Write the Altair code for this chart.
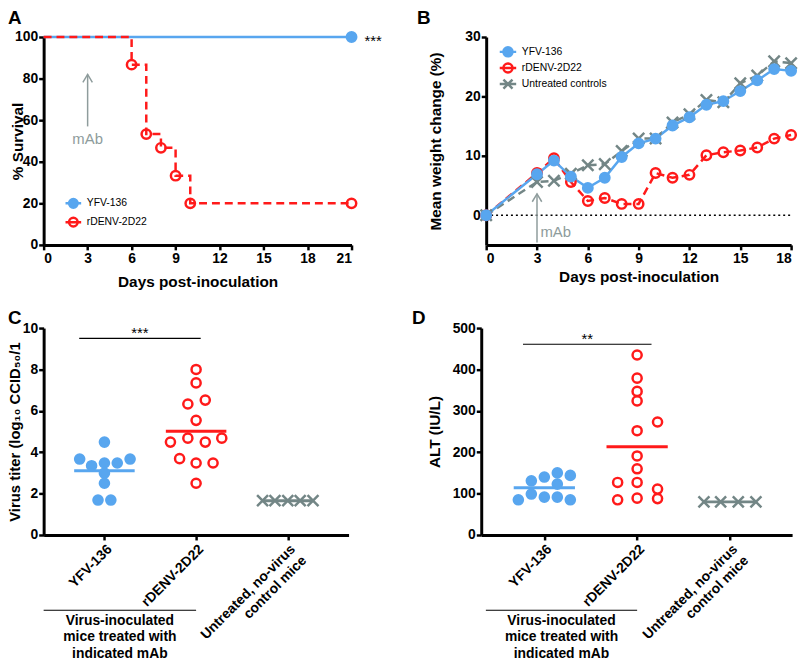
import altair as alt
import pandas as pd

FONT = "Liberation Sans"
BLUE = "#58a6ef"
RED = "#ff1a1a"
GRAY = "#738686"
ARROW = "#8e9c9c"

# legend / marker shapes (unit square paths)
CLINE = "M-1,0L1,0M0.55,0A0.55,0.55,0,1,1,-0.55,0A0.55,0.55,0,1,1,0.55,0"
XLINE = "M-1,0L1,0M-0.55,-0.55L0.55,0.55M-0.55,0.55L0.55,-0.55"
XPATH = "M-1.2,-1.2L1.2,1.2M-1.2,1.2L1.2,-1.2"
CHEV = "M-0.6,1L0,0L0.6,1"

# ---------------- Panel A data: survival ----------------
a_series = ["YFV-136", "rDENV-2D22"]
a_yfv_days = [0, 21]
a_yfv_surv = [100, 100]
a_den_days = [0, 6, 7, 8, 9, 10, 21]
a_den_surv = [100, 86.7, 53.3, 46.7, 33.3, 20, 20]
a_x_ticks = [0, 3, 6, 9, 12, 15, 18, 21]
a_y_ticks = [0, 20, 40, 60, 80, 100]

# ---------------- Panel B data: weight change ----------------
b_series = ["YFV-136", "rDENV-2D22", "Untreated controls"]
b_days = [0, 3, 4, 5, 6, 7, 8, 9, 10, 11, 12, 13, 14, 15, 16, 17, 18]
b_yfv = [0, 6.9, 9.2, 6.5, 4.6, 6.3, 9.8, 12.1, 12.9, 15.1, 16.5, 18.6, 19.2, 20.9, 22.7, 24.6, 24.3]
b_den = [0, 7.1, 9.6, 5.6, 2.4, 2.9, 1.9, 1.9, 7.1, 6.3, 6.8, 10.1, 10.6, 10.9, 11.4, 12.9, 13.5]
b_ctrl = [0, 5.6, 5.8, 7.0, 8.4, 8.6, 10.8, 12.9, 12.9, 15.6, 17.0, 19.4, 19.0, 22.2, 23.5, 25.9, 25.6]
b_x_ticks = [0, 3, 6, 9, 12, 15, 18]
b_y_ticks = [0, 10, 20, 30]

# ---------------- Panels C / D data ----------------
cats = ["YFV-136", "rDENV-2D22", "Untreated, no-virus|control mice"]
grp = ["YFV-136", "rDENV-2D22", "Untreated"]

c_yfv = [4.49, 3.67, 3.67, 3.35, 3.48, 3.48, 2.99, 2.50, 1.69, 1.69]
c_yfv_off = [0, -0.27, 0.28, -0.14, 0, 0.14, 0, 0, -0.07, 0.07]
c_den = [8.0, 7.35, 6.33, 6.52, 5.54, 4.49, 4.68, 4.49, 4.68, 3.69, 3.48, 3.48, 2.50]
c_den_off = [0, 0, -0.09, 0.10, 0, -0.28, -0.09, 0.10, 0.28, -0.18, 0, 0.185, 0]
c_ctrl = [1.66, 1.66, 1.66, 1.66, 1.66]
c_ctrl_off = [-0.275, -0.14, 0, 0.135, 0.275]

d_yfv = [150, 140, 144, 131, 123, 99, 91.5, 91.5, 85, 85]
d_yfv_off = [0.14, 0, 0.28, -0.14, 0.14, -0.14, 0, 0.14, -0.28, 0.28]
d_den = [435, 379, 347, 324, 273, 252, 191, 160, 127, 127, 111, 85, 89, 88]
d_den_off = [0, 0, 0, 0, 0.22, 0, 0, 0, -0.21, 0, 0.22, -0.21, 0, 0.22]
d_ctrl = [80, 80, 80, 80]
d_ctrl_off = [-0.28, -0.10, 0.09, 0.28]

bracket_lines = ["Virus-inoculated", "mice treated with", "indicated mAb"]


def axis(**kw):
    base = dict(domainColor="black", domainWidth=3, tickColor="black", tickWidth=2.5, tickSize=5,
                labelFont=FONT, labelFontWeight="bold", labelFontSize=14, labelColor="black",
                labelPadding=2, titleFont=FONT, titleFontWeight="bold", titleFontSize=15.5,
                titleColor="black", grid=False)
    base.update(kw)
    return alt.Axis(**base)


def letter(t, x, y):
    return alt.Chart(pd.DataFrame({"t": [t]})).mark_text(
        align="left", baseline="alphabetic", font=FONT, fontSize=19, fontWeight="bold", color="black"
    ).encode(text="t:N", x=alt.value(x), y=alt.value(y))


# ======================= Panel A =======================
dfA = pd.concat([
    pd.DataFrame({"day": a_yfv_days, "surv": a_yfv_surv, "series": "YFV-136"}),
    pd.DataFrame({"day": a_den_days, "surv": a_den_surv, "series": "rDENV-2D22"}),
])
xA = alt.X("day:Q", scale=alt.Scale(domain=[0, 21], nice=False),
           axis=axis(values=a_x_ticks, title="Days post-inoculation", titlePadding=9))
yA = alt.Y("surv:Q", scale=alt.Scale(domain=[0, 100], nice=False),
           axis=axis(values=a_y_ticks, title="% Survival", titleX=-18, labelPadding=1))
legA = alt.Legend(title=None, orient="none", legendX=20.5, legendY=158.5, symbolType=CLINE,
                  symbolSize=250, symbolStrokeWidth=2.5, labelFont=FONT, labelFontSize=10.5,
                  labelColor="black", labelOffset=4, rowPadding=0, padding=0)
baseA = alt.Chart(dfA)
lineA1 = baseA.transform_filter("datum.series == 'YFV-136'").mark_line(
    color=BLUE, strokeWidth=2.5).encode(x=xA, y=yA)
lineA2 = baseA.transform_filter("datum.series == 'rDENV-2D22'").mark_line(
    color=RED, strokeWidth=2.5, strokeDash=[8, 5], interpolate="step-after").encode(x=xA, y=yA)
ptsA = baseA.transform_filter("datum.day > 0").mark_point(size=90, strokeWidth=2.5, opacity=1).encode(
    x=xA, y=yA,
    stroke=alt.Stroke("series:N", scale=alt.Scale(domain=a_series, range=[BLUE, RED]), legend=legA),
    fill=alt.Fill("series:N", scale=alt.Scale(domain=a_series, range=[BLUE, "transparent"]), legend=legA),
)
arrA = alt.Chart(pd.DataFrame({"day": [3], "surv": [57], "surv2": [82]}))
ruleA = arrA.mark_rule(color=ARROW, strokeWidth=1.5).encode(x=xA, y=yA, y2="surv2:Q")
headA = arrA.mark_point(shape=CHEV, size=256, color=ARROW, strokeWidth=1.5, filled=False,
                        opacity=1).encode(x=xA, y=alt.Y("surv2:Q"))
mabA = alt.Chart(pd.DataFrame({"day": [3], "surv": [51], "t": ["mAb"]})).mark_text(
    font=FONT, fontSize=15, color=ARROW).encode(x=xA, y=yA, text="t:N")
starA = alt.Chart(pd.DataFrame({"day": [21], "surv": [100], "t": ["***"]})).mark_text(
    font=FONT, fontSize=15, color="black", align="left", dx=13, dy=4).encode(x=xA, y=yA, text="t:N")
panelA = alt.layer(lineA1, lineA2, ptsA, ruleA, headA, mabA, starA, letter("A", -36, -13)).properties(
    width=311, height=210)

# ======================= Panel B =======================
dfB = pd.concat([
    pd.DataFrame({"day": b_days, "w": b_den, "series": "rDENV-2D22"}),
    pd.DataFrame({"day": b_days, "w": b_ctrl, "series": "Untreated controls"}),
    pd.DataFrame({"day": b_days, "w": b_yfv, "series": "YFV-136"}),
])
xB = alt.X("day:Q", scale=alt.Scale(domain=[0, 18], nice=False),
           axis=axis(values=b_x_ticks, title="Days post-inoculation", titlePadding=4))
yB = alt.Y("w:Q", scale=alt.Scale(domain=[-5, 30], nice=False),
           axis=axis(values=b_y_ticks, title="Mean weight change (%)", titleX=-43, labelPadding=1))
baseB = alt.Chart(dfB)
zeroB = alt.Chart(pd.DataFrame({"day": [0], "day2": [18], "w": [0]})).mark_rule(
    color="black", strokeWidth=1.5, strokeDash=[2, 3]).encode(x=xB, x2="day2:Q", y=yB)
lineB_den = baseB.transform_filter("datum.series == 'rDENV-2D22'").mark_line(
    color=RED, strokeWidth=2.5, strokeDash=[8, 5]).encode(x=xB, y=yB)
lineB_ctrl = baseB.transform_filter("datum.series == 'Untreated controls'").mark_line(
    color=GRAY, strokeWidth=2.5, strokeDash=[8, 5]).encode(x=xB, y=yB)
lineB_yfv = baseB.transform_filter("datum.series == 'YFV-136'").mark_line(
    color=BLUE, strokeWidth=2.5).encode(x=xB, y=yB)
ptsB = baseB.mark_point(size=90, strokeWidth=2.5, opacity=1).encode(
    x=xB, y=yB,
    stroke=alt.Stroke("series:N", scale=alt.Scale(domain=b_series, range=[BLUE, RED, GRAY]), legend=None),
    fill=alt.Fill("series:N", scale=alt.Scale(domain=b_series, range=[BLUE, "transparent", "transparent"]),
                  legend=None),
    shape=alt.Shape("series:N", scale=alt.Scale(domain=b_series, range=["circle", "circle", XPATH]),
                    legend=None),
)
arrB = alt.Chart(pd.DataFrame({"day": [3], "w": [-4.6], "w2": [3.6]}))
ruleB = arrB.mark_rule(color=ARROW, strokeWidth=1.5).encode(x=xB, y=yB, y2="w2:Q")
headB = arrB.mark_point(shape=CHEV, size=256, color=ARROW, strokeWidth=1.5, filled=False,
                        opacity=1).encode(x=xB, y=alt.Y("w2:Q"))
mabB = alt.Chart(pd.DataFrame({"day": [3.2], "w": [-2.8], "t": ["mAb"]})).mark_text(
    font=FONT, fontSize=15, color=ARROW, align="left").encode(x=xB, y=yB, text="t:N")
mainB = alt.layer(zeroB, lineB_den, lineB_ctrl, lineB_yfv, ptsB, ruleB, headB, mabB, letter("B", -70, -13))

# key for panel B: series placed by a point scale (line + marker symbols)
keyB = alt.Chart(pd.DataFrame({"series": b_series}))
keyY = alt.Y("series:N", scale=alt.Scale(domain=b_series, range=[15, 47.5], padding=0), axis=None)
keyPts = keyB.mark_point(size=276, strokeWidth=2.5, opacity=1).encode(
    x=alt.value(22), y=keyY,
    stroke=alt.Stroke("series:N", scale=alt.Scale(domain=b_series, range=[BLUE, RED, GRAY]), legend=None),
    fill=alt.Fill("series:N", scale=alt.Scale(domain=b_series, range=[BLUE, "transparent", "transparent"]),
                  legend=None),
    shape=alt.Shape("series:N", scale=alt.Scale(domain=b_series, range=[CLINE, CLINE, XLINE]), legend=None),
)
keyTxt = keyB.mark_text(align="left", baseline="middle", font=FONT, fontSize=10.5, color="black").encode(
    x=alt.value(36), y=keyY, text="series:N")
legendB = alt.layer(keyPts, keyTxt)

panelB = alt.layer(mainB, legendB).resolve_scale(
    y="independent", stroke="independent", fill="independent", shape="independent").properties(
    width=308, height=210)


# ======================= Panels C / D =======================
def dot_panel(vals, offs, ytitle, ydom, yticks, xdom, W, H, titleX, tsize, sig, bracket_x0, let):
    rows = []
    for gi, (v, o) in enumerate(zip(vals, offs)):
        rows.append(pd.DataFrame({"v": v, "off": o, "cat": gi, "series": grp[gi]}))
    df = pd.concat(rows)
    lab_expr = ("datum.value == 0 ? '%s' : datum.value == 1 ? '%s' : split('%s', '|')"
                % (cats[0], cats[1], cats[2]))
    x = alt.X("xpos:Q", scale=alt.Scale(domain=xdom, nice=False, zero=False),
              axis=axis(values=[0, 1, 2], labelExpr=lab_expr, labelAngle=315, labelAlign="right",
                        labelBaseline="top", labelLineHeight=16, labelOverlap=False, title=None))
    y = alt.Y("v:Q", scale=alt.Scale(domain=ydom, nice=False),
              axis=axis(values=yticks, title=ytitle, titleX=titleX, titleFontSize=tsize, labelPadding=1))
    base = alt.Chart(df).transform_calculate(xpos="datum.cat + datum.off")
    means = alt.Chart(df).transform_aggregate(v="mean(v)", groupby=["series", "cat"]).transform_calculate(
        half="datum.series == 'Untreated' ? 0.28 : 0.33",
        xpos="datum.cat - datum.half", xpos2="datum.cat + datum.half",
    ).mark_rule(strokeWidth=3).encode(
        x=x, x2="xpos2:Q", y=y,
        color=alt.Color("series:N", scale=alt.Scale(domain=grp, range=[BLUE, RED, GRAY]), legend=None))
    pts = base.mark_point(size=85, strokeWidth=2.5, opacity=1).encode(
        x=x, y=y,
        stroke=alt.Stroke("series:N", scale=alt.Scale(domain=grp, range=[BLUE, RED, GRAY]), legend=None),
        fill=alt.Fill("series:N", scale=alt.Scale(domain=grp, range=[BLUE, "transparent", "transparent"]),
                      legend=None),
        shape=alt.Shape("series:N", scale=alt.Scale(domain=grp, range=["circle", "circle", XPATH]),
                        legend=None),
    )
    sdf = pd.DataFrame({"xpos": [sig[0]], "xpos2": [sig[1]], "v": [sig[2]],
                        "xc": [(sig[0] + sig[1]) / 2], "t": [sig[3]]})
    sig_rule = alt.Chart(sdf).mark_rule(color="black", strokeWidth=1.2).encode(x=x, x2="xpos2:Q", y=y)
    sig_text = alt.Chart(sdf).mark_text(font=FONT, fontSize=15, color="black", baseline="bottom",
                                        dy=3).encode(x=alt.X("xc:Q"), y=y, text="t:N")
    bdf = pd.DataFrame({"xpos": [bracket_x0], "xpos2": [1.0], "xc": [(bracket_x0 + 1.0) / 2],
                        "t": ["\n".join(bracket_lines)]})
    br_rule = alt.Chart(bdf).mark_rule(color="black", strokeWidth=1.2).encode(
        x=x, x2="xpos2:Q", y=alt.value(H + 76))
    br_text = alt.Chart(bdf).mark_text(font=FONT, fontSize=14, fontWeight="bold", color="black",
                                       baseline="top", lineBreak="\n", lineHeight=16.5).encode(
        x=alt.X("xc:Q"), y=alt.value(H + 80), text="t:N")
    return alt.layer(means, pts, sig_rule, sig_text, br_rule, br_text,
                     letter(let[0], let[1], let[2])).properties(width=W, height=H)


panelC = dot_panel([c_yfv, c_den, c_ctrl], [c_yfv_off, c_den_off, c_ctrl_off],
                   "Virus titer (log\u2081\u2080 CCID\u2085\u2080/1", [0, 10], [0, 2, 4, 6, 8, 10],
                   [-0.663, 2.663], 308, 209, -21, 15, (-0.275, 1.05, 9.5, "***"), -0.663, ("C", -36, -4))
panelD = dot_panel([d_yfv, d_den, d_ctrl], [d_yfv_off, d_den_off, d_ctrl_off],
                   "ALT (IU/L)", [0, 500], [0, 100, 200, 300, 400, 500],
                   [-0.68, 2.67], 314, 209, -39, 15.5, (-0.23, 1.155, 461, "**"), -0.63, ("D", -70, -4))

RES = dict(color="independent", fill="independent", stroke="independent", shape="independent")
top = alt.hconcat(panelA, panelB, spacing=35).resolve_scale(**RES)
bottom = alt.hconcat(panelC, panelD, spacing=64).resolve_scale(**RES)
chart = alt.vconcat(top, bottom, spacing=19).resolve_scale(**RES).properties(
    padding={"left": 0, "top": -2, "right": 0, "bottom": 0}).configure_view(stroke=None)

chart.save("out.html", embed_options={"renderer": "svg", "actions": False})
